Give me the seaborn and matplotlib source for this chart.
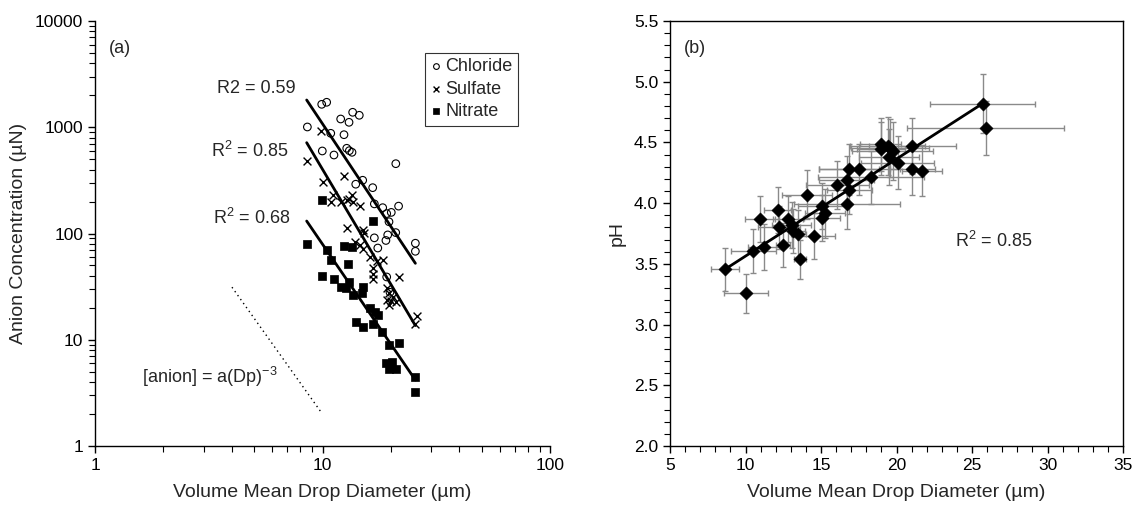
import numpy as np
import pandas as pd
import matplotlib
matplotlib.use("Agg")
import matplotlib.pyplot as plt
import matplotlib.ticker as mticker
import seaborn as sns

# ---------------- data: panel (a) ----------------
chloride_d = [9.92, 10.43, 8.58, 13.57, 14.51, 12.02, 13.08, 10.87, 12.43, 9.98, 11.23, 12.78,
              13.12, 13.48, 21.0, 15.02, 14.0, 16.62, 16.9, 18.39, 20.06, 21.6, 19.15, 19.6,
              16.9, 19.35, 20.98, 19.0, 17.5, 25.6, 25.6, 19.15, 19.8]
chloride_c = [1644, 1718, 1006, 1383, 1296, 1196, 1113, 877, 851, 598, 548, 634,
              602, 581, 454, 317, 291, 270, 190, 175, 158, 181, 154, 129,
              91, 97, 102, 86, 73, 81, 68, 39, 28]

sulfate_d = [8.58, 9.85, 10.0, 12.43, 11.17, 10.9, 12.06, 12.78, 13.12, 13.48, 13.67, 14.6,
             12.78, 15.1, 15.25, 13.9, 14.6, 15.1, 16.2, 17.3, 18.4, 16.6, 16.7, 16.6,
             21.7, 19.15, 19.6, 20.4, 20.0, 19.15, 21.1, 19.6, 25.9, 25.6]
sulfate_c = [481, 922, 305, 350, 230, 199, 199, 207, 213, 230, 199, 183,
             113, 108, 102, 84, 78, 71, 60.5, 55, 56, 47, 42, 37.6,
             38.7, 30.5, 27.4, 25.4, 23.2, 23.7, 22.8, 21.2, 16.7, 14.1]

nitrate_d = [9.94, 16.6, 8.58, 10.46, 10.87, 12.47, 13.48, 12.97, 9.98, 11.23, 12.06, 12.7,
             13.12, 13.67, 15.1, 14.85, 16.2, 17.0, 17.6, 14.0, 15.0, 16.7, 18.3, 19.6,
             21.7, 19.0, 20.2, 19.65, 21.0, 25.6, 25.6]
nitrate_c = [207, 131, 80, 70, 56, 77, 75, 51.6, 39.8, 37.6, 31.2, 30.5,
             35.2, 26.4, 31.2, 27.4, 19.8, 18.4, 17.1, 14.8, 13.3, 14.1, 11.9, 8.9,
             9.4, 6.0, 6.2, 5.3, 5.3, 4.5, 3.2]

# fitted lines (end points)
chloride_fit_d = [8.52, 25.6]
chloride_fit_c = [1805, 52.4]
sulfate_fit_d = [8.52, 25.6]
sulfate_fit_c = [716, 13.6]
nitrate_fit_d = [8.52, 25.6]
nitrate_fit_c = [131, 4.18]
# reference slope line  [anion] = a * Dp^-3
ref_d = [4.0, 9.8]
ref_c = [31.25, 2.12]

r2_labels_a = ["R2 = 0.59", r"R$^2$ = 0.85", r"R$^2$ = 0.68"]
series_names = ["Chloride", "Sulfate", "Nitrate"]

# ---------------- data: panel (b) ----------------
ph_d = [8.64, 10.01, 10.52, 11.25, 10.96, 12.13, 12.24, 12.79, 12.5, 13.06, 13.17, 13.5,
        13.61, 14.05, 14.56, 15.05, 15.05, 15.26, 16.08, 16.7, 16.7, 16.87, 16.87, 17.54,
        18.31, 18.95, 18.97, 19.42, 19.57, 19.75, 19.5, 20.08, 21.05, 21.05, 21.69, 25.7, 25.9]
ph_v = [3.455, 3.257, 3.606, 3.641, 3.869, 3.944, 3.80, 3.869, 3.655, 3.82, 3.77, 3.746,
        3.537, 4.07, 3.729, 3.976, 3.88, 3.916, 4.149, 3.99, 4.19, 4.281, 4.108, 4.281,
        4.212, 4.485, 4.45, 4.471, 4.452, 4.432, 4.382, 4.333, 4.471, 4.281, 4.265, 4.82, 4.62]
ph_xerr = [0.95, 1.45, 1.5, 1.1, 1.0, 0.9, 1.4, 1.0, 0.45, 1.3, 0.8, 0.5,
           0.4, 1.65, 1.4, 1.6, 1.2, 1.3, 2.1, 3.5, 1.8, 2.0, 1.5, 2.7,
           3.5, 1.35, 1.6, 2.5, 2.6, 2.7, 2.0, 2.4, 2.9, 1.5, 1.3, 3.5, 5.2]
ph_yerr = [0.175, 0.16, 0.18, 0.19, 0.19, 0.19, 0.18, 0.19, 0.18, 0.19, 0.18, 0.2,
           0.16, 0.2, 0.19, 0.19, 0.19, 0.2, 0.2, 0.2, 0.2, 0.21, 0.2, 0.21,
           0.22, 0.22, 0.22, 0.24, 0.24, 0.24, 0.23, 0.22, 0.23, 0.21, 0.21, 0.24, 0.22]
ph_fit_d = [8.64, 25.7]
ph_fit_v = [3.455, 4.82]
r2_label_b = r"R$^2$ = 0.85"

# ---------------- style ----------------
sns.set_style("ticks")
plt.rcParams["font.family"] = ["Liberation Sans", "DejaVu Sans"]
plt.rcParams["mathtext.fontset"] = "custom"
plt.rcParams["mathtext.rm"] = "Liberation Sans"
plt.rcParams["mathtext.it"] = "Liberation Sans:italic"
plt.rcParams["mathtext.default"] = "regular"
plt.rcParams["axes.linewidth"] = 1.0
plt.rcParams["axes.edgecolor"] = "black"
plt.rcParams["xtick.color"] = "black"
plt.rcParams["ytick.color"] = "black"

TICK_FS = 12.5
LAB_FS = 14
TXT_FS = 13

fig = plt.figure(figsize=(11.35, 5.15), dpi=100)
ax1 = fig.add_axes([95 / 1135, 69 / 515, 455 / 1135, 425 / 515])
ax2 = fig.add_axes([670 / 1135, 69 / 515, 453 / 1135, 425 / 515])

# ---------------- panel (a) ----------------
ax1.set_xscale("log")
ax1.set_yscale("log")

sns.scatterplot(x=chloride_d, y=chloride_c, ax=ax1, marker="o", s=30,
                facecolor="none", edgecolor="black", linewidth=0.8, label=series_names[0])
sns.scatterplot(x=sulfate_d, y=sulfate_c, ax=ax1, marker="x", s=32,
                color="black", linewidth=1.0, label=series_names[1])
sns.scatterplot(x=nitrate_d, y=nitrate_c, ax=ax1, marker="s", s=28,
                color="black", edgecolor="black", linewidth=0.5, label=series_names[2])

for fd, fc in [(chloride_fit_d, chloride_fit_c), (sulfate_fit_d, sulfate_fit_c),
               (nitrate_fit_d, nitrate_fit_c)]:
    sns.lineplot(x=fd, y=fc, ax=ax1, color="black", linewidth=2.0, legend=False)
sns.lineplot(x=ref_d, y=ref_c, ax=ax1, color="black", linewidth=1.0,
             linestyle=(0, (1, 2.5)), legend=False)

ax1.set_xlim(1, 100)
ax1.set_ylim(1, 10000)
ax1.xaxis.set_major_formatter(mticker.FuncFormatter(lambda v, p: f"{v:g}"))
ax1.yaxis.set_major_formatter(mticker.FuncFormatter(lambda v, p: f"{v:g}"))
ax1.xaxis.set_minor_formatter(mticker.NullFormatter())
ax1.yaxis.set_minor_formatter(mticker.NullFormatter())
sns.despine(ax=ax1)
ax1.tick_params(which="major", direction="out", length=5, width=1, labelsize=TICK_FS)
ax1.tick_params(which="minor", direction="out", length=4, width=0.8)
ax1.set_xlabel("Volume Mean Drop Diameter (µm)", fontsize=LAB_FS, labelpad=8)
ax1.set_ylabel("Anion Concentration (µN)", fontsize=LAB_FS, labelpad=6)

ax1.text(0.03, 0.935, "(a)", transform=ax1.transAxes, fontsize=TXT_FS, va="center", ha="left")
ax1.text(0.354, 0.842, r2_labels_a[0], transform=ax1.transAxes, fontsize=TXT_FS, ha="center", va="center")
ax1.text(0.341, 0.695, r2_labels_a[1], transform=ax1.transAxes, fontsize=TXT_FS, ha="center", va="center")
ax1.text(0.345, 0.536, r2_labels_a[2], transform=ax1.transAxes, fontsize=TXT_FS, ha="center", va="center")
ax1.text(0.402, 0.163, r"[anion] = a(Dp)$^{-3}$", transform=ax1.transAxes, fontsize=TXT_FS,
         ha="right", va="center")

leg = ax1.legend(loc="upper right", bbox_to_anchor=(0.93, 0.925), frameon=True, fancybox=False,
                 edgecolor="black", fontsize=TXT_FS, handletextpad=0.15, labelspacing=0.3,
                 borderpad=0.3, handlelength=0.7, borderaxespad=0.0, markerscale=0.75)
leg.get_frame().set_linewidth(0.8)

# ---------------- panel (b) ----------------
ax2.errorbar(ph_d, ph_v, xerr=ph_xerr, yerr=ph_yerr, fmt="none", ecolor="#8a8a8a",
             elinewidth=1.0, capsize=2.5, capthick=1.0, zorder=1)
sns.lineplot(x=ph_fit_d, y=ph_fit_v, ax=ax2, color="black", linewidth=2.0, legend=False, zorder=2)
sns.scatterplot(x=ph_d, y=ph_v, ax=ax2, marker="D", s=46, color="black",
                edgecolor="black", linewidth=0.3, zorder=3)

ax2.set_xlim(5, 35)
ax2.set_ylim(2.0, 5.5)
ax2.xaxis.set_major_locator(mticker.MultipleLocator(5))
ax2.xaxis.set_minor_locator(mticker.MultipleLocator(1))
ax2.yaxis.set_major_locator(mticker.MultipleLocator(0.5))
ax2.yaxis.set_minor_locator(mticker.MultipleLocator(0.1))
ax2.yaxis.set_major_formatter(mticker.FormatStrFormatter("%.1f"))
ax2.tick_params(which="major", direction="out", length=5, width=1, labelsize=TICK_FS,
                top=False, right=False)
ax2.tick_params(which="minor", direction="out", length=4, width=0.8, top=False, right=False)
ax2.set_xlabel("Volume Mean Drop Diameter (µm)", fontsize=LAB_FS, labelpad=8)
ax2.set_ylabel("pH", fontsize=LAB_FS, labelpad=6)
ax2.text(0.03, 0.935, "(b)", transform=ax2.transAxes, fontsize=TXT_FS, va="center", ha="left")
ax2.text(23.9, 3.69, r2_label_b, fontsize=TXT_FS, ha="left", va="center")

fig.savefig("out.png", dpi=100)
